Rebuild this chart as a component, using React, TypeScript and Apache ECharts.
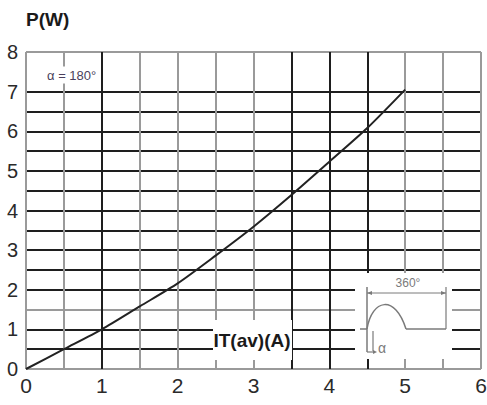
import React, { useEffect, useRef } from 'react';
import * as echarts from 'echarts';

// Data
const currentA = [0, 0.5, 1, 1.5, 2, 2.5, 3, 3.5, 4, 4.5, 5];
const powerW = [0, 0.5, 1.0, 1.58, 2.16, 2.86, 3.59, 4.39, 5.23, 6.08, 7.05];
const xLabelValues = [0, 1, 2, 3, 4, 5, 6];
const yLabelValues = [0, 1, 2, 3, 4, 5, 6, 7, 8];

// Styles
const G = '#9a9a9a';
const K = '#1e1e1e';
const xLineColors = [G, G, K, G, G, G, G, K, K, K, G, G, G];
const yLineColors = [G, K, K, G, K, K, K, K, K, K, K, K, K, K, K, 'rgba(0,0,0,0)', G];
const NARROW = "'Liberation Sans Narrow', 'Arial Narrow', 'Liberation Sans', Arial, sans-serif";
const INSET = '#7a7a7a';

export default function App() {
  const ref = useRef<HTMLDivElement>(null);
  useEffect(() => {
    if (!ref.current) return;
    const chart = echarts.init(ref.current, null, { renderer: 'svg' });
    const points = currentA.map((x, i) => [x, powerW[i]]);
    chart.setOption({
      animation: false,
      backgroundColor: '#ffffff',
      title: {
        text: 'P(W)',
        left: 21,
        top: 5,
        textStyle: { fontFamily: NARROW, fontSize: 19, fontWeight: 'bold', color: '#1a1a1a' },
      },
      grid: { left: 26, right: 6, top: 52, bottom: 36, containLabel: false, outerBoundsMode: 'none' },
      xAxis: {
        type: 'value',
        min: 0,
        max: 6,
        interval: 0.5,
        axisLine: { show: false },
        axisTick: { show: false },
        splitLine: { show: true, lineStyle: { color: xLineColors, width: 2 } },
        axisLabel: {
          margin: 6,
          fontFamily: NARROW,
          fontSize: 21,
          color: '#2a2a2a',
          showMaxLabel: true,
          showMinLabel: true,
          formatter: (v: number) => (xLabelValues.includes(v) ? String(v) : ''),
        },
      },
      yAxis: {
        type: 'value',
        min: 0,
        max: 8,
        interval: 0.5,
        axisLine: { show: false },
        axisTick: { show: false },
        splitLine: { show: true, lineStyle: { color: yLineColors, width: 2 } },
        axisLabel: {
          margin: 8,
          fontFamily: NARROW,
          fontSize: 20,
          color: '#2a2a2a',
          formatter: (v: number) => (yLabelValues.includes(v) ? String(v) : ''),
        },
      },
      series: [
        {
          type: 'line',
          data: points,
          smooth: 0.25,
          symbol: 'none',
          z: 5,
          lineStyle: { color: '#222', width: 2 },
        },
      ],
      graphic: [
        // mask behind axis title
        { type: 'rect', z: 1, shape: { x: 213, y: 320, width: 79, height: 40 }, style: { fill: '#fff' } },
        {
          type: 'text', z: 6, x: 252, y: 340,
          style: {
            text: 'IT(av)(A)', fontFamily: NARROW, fontSize: 19, fontWeight: 'bold',
            fill: '#1a1a1a', align: 'center', verticalAlign: 'middle',
          },
        },
        // alpha label at top
        {
          type: 'text', z: 6, x: 45, y: 75,
          style: {
            text: 'α = 180°', fontFamily: "'Liberation Sans', Arial, sans-serif", fontSize: 13,
            fill: '#4a3f5c', align: 'left', verticalAlign: 'middle',
            backgroundColor: '#fff', padding: [2, 2],
          },
        },
        // inset mask
        { type: 'rect', z: 1, shape: { x: 355, y: 273, width: 97, height: 86 }, style: { fill: '#fff' } },
        // inset drawing
        {
          type: 'text', z: 6, x: 408, y: 283,
          style: { text: '360°', fontFamily: "'Liberation Sans', Arial, sans-serif", fontSize: 12, fill: INSET, align: 'center', verticalAlign: 'middle' },
        },
        { type: 'line', z: 6, shape: { x1: 367, y1: 293, x2: 446, y2: 293 }, style: { stroke: INSET, lineWidth: 1 } },
        { type: 'polygon', z: 6, shape: { points: [[367, 293], [372, 291], [372, 295]] }, style: { fill: INSET } },
        { type: 'polygon', z: 6, shape: { points: [[446, 293], [441, 291], [441, 295]] }, style: { fill: INSET } },
        { type: 'line', z: 6, shape: { x1: 367, y1: 287, x2: 367, y2: 352 }, style: { stroke: INSET, lineWidth: 1.5 } },
        { type: 'line', z: 6, shape: { x1: 446, y1: 287, x2: 446, y2: 329 }, style: { stroke: INSET, lineWidth: 1.2 } },
        { type: 'line', z: 6, shape: { x1: 360, y1: 329, x2: 367, y2: 329 }, style: { stroke: INSET, lineWidth: 1.5 } },
        {
          type: 'bezierCurve', z: 6,
          shape: { x1: 367, y1: 329, cpx1: 372, cpy1: 299, cpx2: 395, cpy2: 294, x2: 406, y2: 329 },
          style: { stroke: INSET, lineWidth: 1.5, fill: null },
        },
        { type: 'line', z: 6, shape: { x1: 406, y1: 329, x2: 446, y2: 329 }, style: { stroke: INSET, lineWidth: 1.5 } },
        { type: 'line', z: 6, shape: { x1: 373, y1: 331, x2: 373, y2: 351 }, style: { stroke: INSET, lineWidth: 1.2 } },
        { type: 'line', z: 6, shape: { x1: 367, y1: 352, x2: 374, y2: 352 }, style: { stroke: INSET, lineWidth: 1.2 } },
        { type: 'polygon', z: 6, shape: { points: [[377, 352], [373, 350], [373, 354]] }, style: { fill: INSET } },
        {
          type: 'text', z: 6, x: 378, y: 348,
          style: { text: 'α', fontFamily: "'Liberation Sans', Arial, sans-serif", fontSize: 14, fill: INSET, align: 'left', verticalAlign: 'middle' },
        },
      ],
    });
    return () => chart.dispose();
  }, []);
  return <div ref={ref} style={{ position: 'absolute', left: 0, top: 0, width: 487, height: 405 }} />;
}
